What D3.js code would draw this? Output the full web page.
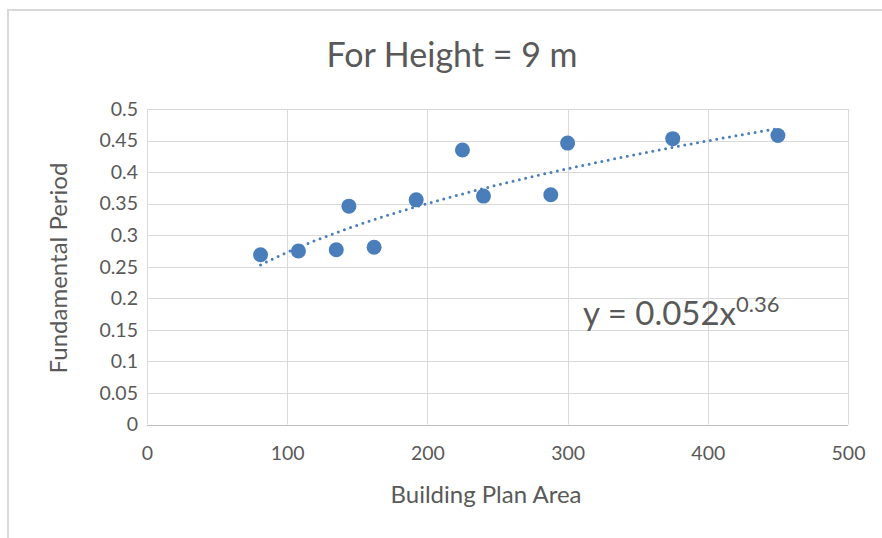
<!DOCTYPE html>
<html>
<head>
<meta charset="utf-8">
<title>For Height = 9 m</title>
<script src="https://d3js.org/d3.v7.min.js"></script>
<style>
  body { margin: 0; background: #fff; }
  svg { display: block; font-family: Lato, "Liberation Sans", sans-serif; }
  .grid line { stroke: #d9d9d9; stroke-width: 1; }
  .tick text { fill: #595959; }
</style>
</head>
<body>
<svg width="882" height="538"></svg>
<script>
// data
var areas   = [81, 108, 135, 144, 162, 192, 225, 240, 288, 300, 375, 450];
var periods = [0.269, 0.275, 0.277, 0.346, 0.281, 0.356, 0.435, 0.362, 0.364, 0.446, 0.453, 0.458];
var xTicks = [0, 100, 200, 300, 400, 500];
var yTicks = [0, 0.05, 0.1, 0.15, 0.2, 0.25, 0.3, 0.35, 0.4, 0.45, 0.5];
// power trendline shown on the chart: y = 0.052 x^0.36
var trendA = 0.052, trendB = 0.36;

var titleText = "For Height = 9 m";
var xLabel = "Building Plan Area";
var yLabel = "Fundamental Period";

var svg = d3.select("svg");
var pLeft = 147, pRight = 848, pTop = 109, pBottom = 424.5;

// chart area border (Excel-like)
svg.append("path")
  .attr("d", "M8,538 V10 H882")
  .attr("fill", "none")
  .attr("stroke", "#d9d9d9")
  .attr("stroke-width", 2);

var x = d3.scaleLinear().domain([0, 500]).range([pLeft, pRight]);
var y = d3.scaleLinear().domain([0, 0.5]).range([pBottom, pTop]);

// gridlines
var grid = svg.append("g").attr("class", "grid");
grid.selectAll(".h").data(yTicks).enter().append("line")
  .attr("x1", pLeft).attr("x2", pRight)
  .attr("y1", function (d) { return Math.round(y(d)) + 0.5; })
  .attr("y2", function (d) { return Math.round(y(d)) + 0.5; });
grid.selectAll(".v").data(xTicks).enter().append("line")
  .attr("y1", pTop).attr("y2", pBottom)
  .attr("x1", function (d) { return Math.round(x(d)) + 0.5; })
  .attr("x2", function (d) { return Math.round(x(d)) + 0.5; });

// axes (labels only, Excel style)
var yAxis = svg.append("g")
  .attr("transform", "translate(" + (pLeft - 9) + ",0)")
  .call(d3.axisLeft(y).tickValues(yTicks).tickSize(0).tickPadding(0)
    .tickFormat(function (d) { return String(+d.toFixed(2)); }));
yAxis.select(".domain").remove();
yAxis.selectAll("text").attr("font-size", 19.5).attr("font-family", "Lato");

var xAxis = svg.append("g")
  .attr("transform", "translate(0," + (pBottom + 22) + ")")
  .call(d3.axisBottom(x).tickValues(xTicks).tickSize(0).tickPadding(0));
xAxis.select(".domain").remove();
xAxis.selectAll("text").attr("font-size", 19.5).attr("font-family", "Lato");

// bottom axis line
svg.append("line")
  .attr("x1", pLeft).attr("x2", pRight)
  .attr("y1", Math.round(pBottom) + 0.5).attr("y2", Math.round(pBottom) + 0.5)
  .attr("stroke", "#bfbfbf");

// trendline over the data range
var xs = d3.range(d3.min(areas), d3.max(areas) + 0.1, 2);
var line = d3.line()
  .x(function (d) { return x(d); })
  .y(function (d) { return y(trendA * Math.pow(d, trendB)); });
svg.append("path")
  .datum(xs)
  .attr("d", line)
  .attr("fill", "none")
  .attr("stroke", "#4a7ebb")
  .attr("stroke-width", 3)
  .attr("stroke-linecap", "round")
  .attr("stroke-dasharray", "0 6.5");

// points
svg.selectAll(".pt").data(areas).enter().append("circle")
  .attr("cx", function (d) { return x(d); })
  .attr("cy", function (d, i) { return y(periods[i]); })
  .attr("r", 7.5)
  .attr("fill", "#4a7ebb");

// title
svg.append("text")
  .attr("x", 452).attr("y", 67)
  .attr("text-anchor", "middle")
  .attr("font-size", 34)
  .attr("fill", "#595959")
  .text(titleText);

// axis titles
svg.append("text")
  .attr("x", 486).attr("y", 503)
  .attr("text-anchor", "middle")
  .attr("font-size", 24)
  .attr("fill", "#595959")
  .text(xLabel);
svg.append("text")
  .attr("transform", "translate(67,268) rotate(-90)")
  .attr("text-anchor", "middle")
  .attr("font-size", 24)
  .attr("fill", "#595959")
  .text(yLabel);

// equation label
var eq = svg.append("text")
  .attr("x", 583).attr("y", 325)
  .attr("font-size", 33)
  .attr("fill", "#595959");
eq.append("tspan").text("y = " + trendA + "x");
eq.append("tspan").attr("dy", -13).attr("font-size", 22).text(trendB);
</script>
</body>
</html>
